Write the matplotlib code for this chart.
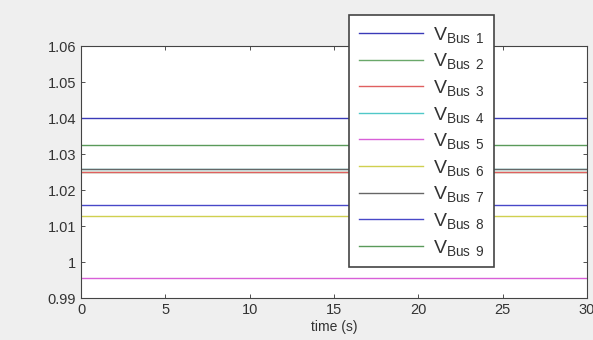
import matplotlib
matplotlib.use("Agg")
import matplotlib.pyplot as plt
import numpy as np

plt.rcParams['font.family'] = ['Liberation Sans', 'DejaVu Sans']
plt.rcParams['mathtext.fontset'] = 'custom'
plt.rcParams['mathtext.rm'] = 'Liberation Sans'

t = [0, 30]
bus_names = ["Bus 1", "Bus 2", "Bus 3", "Bus 4", "Bus 5", "Bus 6", "Bus 7", "Bus 8", "Bus 9"]
bus_voltages = [1.040, 1.025, 1.025, 1.0258, 0.9956, 1.0127, 1.0258, 1.0159, 1.0324]
colors = ['#3a3ab8', '#6aa86a', '#e06060', '#50c8c8', '#d860d8', '#d0d050', '#666666', '#4848c8', '#5a9a5a']
xticks = [0, 5, 10, 15, 20, 25, 30]
yticks = [0.99, 1.0, 1.01, 1.02, 1.03, 1.04, 1.05, 1.06]
ytick_labels = ['0.99', '1', '1.01', '1.02', '1.03', '1.04', '1.05', '1.06']

fig = plt.figure(figsize=(5.93, 3.40), dpi=100, facecolor='#efefef')
ax = fig.add_axes([81/593, 1 - 298/340, (587-81)/593, (298-46)/340])
ax.set_facecolor('white')

for name, v, c in zip(bus_names, bus_voltages, colors):
    ax.plot(t, [v, v], color=c, lw=1.0,
            label=r'$\mathregular{V_{%s}}$' % name.replace(' ', r'\;\,'))

ax.set_xlim(0, 30)
ax.set_ylim(0.99, 1.06)
ax.set_xticks(xticks)
ax.set_yticks(yticks)
ax.set_yticklabels(ytick_labels)
ax.tick_params(direction='in', top=True, right=True, length=3, labelsize=10.5,
               colors='#333333', width=0.6)
for sp in ax.spines.values():
    sp.set_color('#444444')
    sp.set_linewidth(0.8)
ax.set_xlabel('time (s)', fontsize=10, color='#333333', labelpad=2)

leg = ax.legend(loc='upper left', bbox_to_anchor=((349-81)/(587-81), (298-15)/(298-46)),
                fontsize=14, frameon=True, fancybox=False, handlelength=3.3,
                labelspacing=0.34, borderpad=0.5, handletextpad=0.5,
                borderaxespad=0, framealpha=1)
leg.get_frame().set_edgecolor('#444444')
leg.get_frame().set_linewidth(1.2)
for txt in leg.get_texts():
    txt.set_color('#333333')

fig.savefig('out.png', dpi=100, facecolor=fig.get_facecolor())
